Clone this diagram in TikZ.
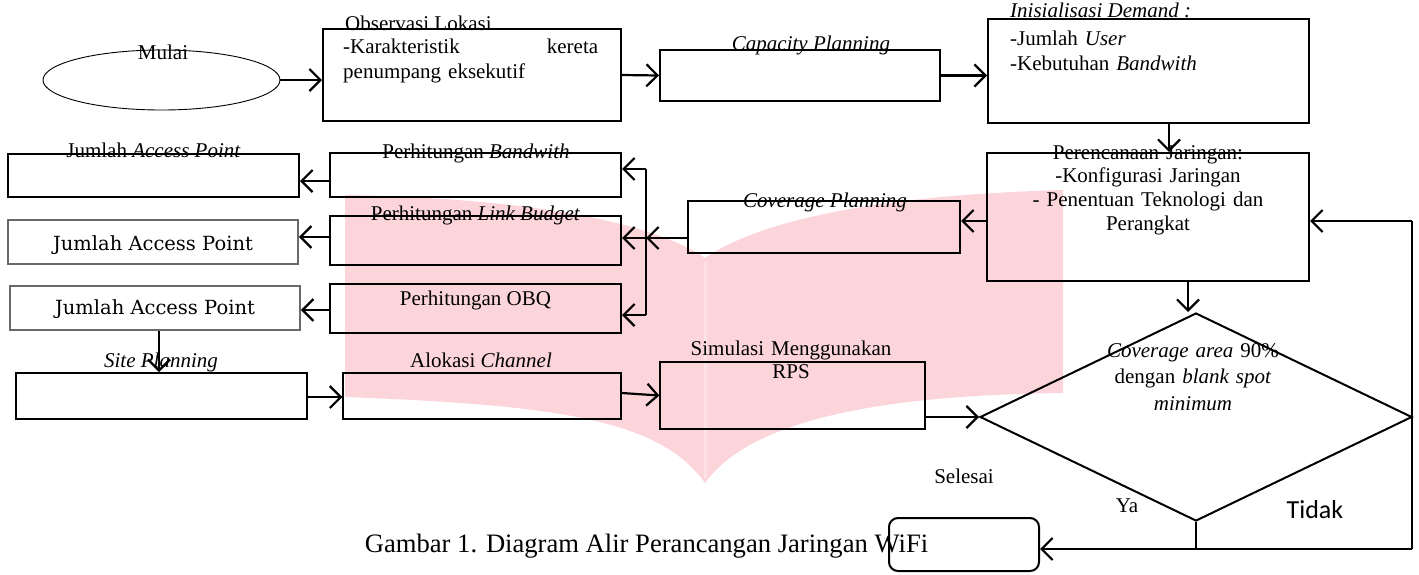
\documentclass[tikz,border=0pt]{standalone}
\usepackage{fontspec}
\setmainfont{Liberation Serif}
\newfontfamily\bmfont{DejaVu Serif}
\newfontfamily\calfont{Carlito}
\usetikzlibrary{arrows.meta,shapes.geometric}
\definecolor{wmpink}{RGB}{252,213,219}
\definecolor{apgray}{RGB}{105,105,105}
\begin{document}
\begin{tikzpicture}[x=1pt,y=-1pt,
  box/.style={draw,line width=2pt,inner sep=0pt},
  thinbox/.style={draw,line width=1.3pt,inner sep=0pt},
  apbox/.style={draw=apgray,line width=1.8pt,inner sep=0pt},
  txt/.style={inner sep=0pt,font=\fontsize{21}{25}\selectfont,anchor=base},
  aptxt/.style={inner sep=0pt,font=\bmfont\fontsize{19.5}{22}\selectfont,anchor=base},
  arr/.style={line width=2.2pt,-{Straight Barb[length=11pt,width=22pt]}},
  ln/.style={line width=2.2pt}]
\useasboundingbox (0,0) rectangle (1419,574);
% watermark
\fill[wmpink] (345,195) .. controls (520,198) and (650,220) .. (705,258)
  .. controls (760,220) and (880,195) .. (1063,190) -- (1063,393)
  .. controls (880,395) and (750,420) .. (705,483)
  .. controls (660,420) and (560,405) .. (345,397) -- cycle;
\draw[white,opacity=0.3,line width=3pt] (705,262) -- (705,478);
% shapes
\node[draw,ellipse,line width=0.9pt,minimum width=237pt,minimum height=60pt,inner sep=0pt] (mulai) at (161.5,80) {};
\node[box,minimum width=298pt,minimum height=92pt] (obs) at (472,75) {};
\node[box,minimum width=280pt,minimum height=51pt] (capbox) at (800,75.5) {};
\node[box,minimum width=321pt,minimum height=104pt] (ini) at (1148.5,71) {};
\node[box,minimum width=322pt,minimum height=128pt] (per) at (1148,217) {};
\node[box,minimum width=272pt,minimum height=52pt] (cov) at (824,227) {};
\node[box,minimum width=291pt,minimum height=44pt] (bw) at (475.5,175) {};
\node[box,minimum width=291pt,minimum height=49pt] (lb) at (475.5,240.5) {};
\node[box,minimum width=291pt,minimum height=49pt] (obq) at (475.5,308.5) {};
\node[box,minimum width=291pt,minimum height=43pt] (ap1) at (153.5,175.5) {};
\node[apbox,minimum width=290pt,minimum height=44pt] (ap2) at (153,242) {};
\node[apbox,minimum width=290pt,minimum height=44pt] (ap3) at (155,308) {};
\node[box,minimum width=291pt,minimum height=46pt] (site) at (161.5,396) {};
\node[thinbox,minimum width=278pt,minimum height=46pt] (alo) at (482,396) {};
\node[thinbox,minimum width=265pt,minimum height=67pt] (sim) at (792.5,395.5) {};
\node[draw,diamond,line width=2pt,inner sep=0pt,minimum width=432pt,minimum height=208pt] (dia) at (1196,417) {};
\node[draw,rounded corners=9pt,line width=2pt,minimum width=150pt,minimum height=53pt,inner sep=0pt] (sel) at (964,544.5) {};
% texts
\node[txt] (tmulai) at (163,59) {Mulai};
\node[txt,anchor=base west] (tobs) at (345,30) {Observasi Lokasi};
\node[txt,anchor=base west,text width=255pt,align=left] (tobsb) at (343,53) {-Karakteristik\hfill kereta\\penumpang eksekutif};
\node[txt] (tcap) at (811,50) {\textit{Capacity Planning}};
\node[txt,anchor=base west] (tini) at (1010,17) {\textit{Inisialisasi Demand :}};
\node[txt,anchor=base west,text width=250pt,align=left] (tinib) at (1010,45) {-Jumlah \textit{User}\\-Kebutuhan \textit{Bandwith}};
\node[txt,text width=300pt,align=center,font=\fontsize{21}{23.7}\selectfont] (tper) at (1148,159) {Perencanaan Jaringan:\\-Konfigurasi Jaringan\\- Penentuan Teknologi dan\\Perangkat};
\node[txt] (tcov) at (825,207) {\textit{Coverage Planning}};
\node[txt] (tbw) at (476,158) {Perhitungan \textit{Bandwith}};
\node[txt] (tlb) at (475.5,220) {Perhitungan \textit{Link Budget}};
\node[txt] (tobq) at (475.5,305) {Perhitungan OBQ};
\node[txt] (tap1) at (153.5,157) {Jumlah \textit{Access Point}};
\node[aptxt] (tap2) at (153,250) {Jumlah Access Point};
\node[aptxt] (tap3) at (155,314) {Jumlah Access Point};
\node[txt] (tsite) at (161,367) {\textit{Site Planning}};
\node[txt] (talo) at (481,367) {Alokasi \textit{Channel}};
\node[txt,text width=260pt,align=center,font=\fontsize{21}{23}\selectfont] (tsim) at (791,355) {Simulasi Menggunakan\\RPS};
\node[txt,text width=260pt,align=center,font=\fontsize{21}{26.5}\selectfont] (tdia) at (1193,357) {\textit{Coverage area} 90\%\\dengan \textit{blank spot}\\\textit{minimum}};
\node[txt] (tsel) at (964,483) {Selesai};
\node[txt] (tya) at (1127,512) {Ya};
\node[txt,font=\calfont\fontsize{26}{30}\selectfont] (ttidak) at (1315,518) {Tidak};
\node[txt,font=\fontsize{26.6}{32}\selectfont] (tcaption) at (646.5,552) {Gambar 1. Diagram Alir Perancangan Jaringan WiFi};
% connectors
\coordinate (brT) at (646,169);
\coordinate (brM) at (646,238);
\coordinate (brB) at (646,315);
\coordinate (ct) at (1412,221);
\coordinate (cb) at (1412,549);
\draw[arr] (mulai.east) -- (obs.west |- mulai.east);
\draw[arr] (obs.east) -- (capbox.west);
\draw[arr] (capbox.east) -- (capbox.east -| ini.west);
\draw[arr] ([xshift=20.5pt]ini.south) -- ([xshift=20.5pt]ini.south |- per.north);
\draw[arr] ([yshift=-4pt]per.west) -- ([yshift=-4pt]per.west -| cov.east);
\draw[ln] (brT) -- (brB);
\draw[arr] (cov.west |- brM) -- (brM);
\draw[arr] (brT) -- (brT -| bw.east);
\draw[arr] (brM) -- (brM -| lb.east);
\draw[arr] (brB) -- (brB -| obq.east);
\draw[arr] ([yshift=-6pt]bw.west) -- ([yshift=-6pt]bw.west -| ap1.east);
\draw[arr] ([yshift=3.5pt]lb.west) -- ([yshift=3.5pt]lb.west -| ap2.east);
\draw[arr] ([yshift=-1.5pt]obq.west) -- ([yshift=-1.5pt]obq.west -| ap3.east);
\draw[arr] ([xshift=4pt]ap3.south) -- ([xshift=4pt]ap3.south |- site.north);
\draw[arr] ([yshift=-1pt]site.east) -- ([yshift=-1pt]site.east -| alo.west);
\draw[arr] ([yshift=3pt]alo.east) -- (sim.west);
\draw[arr] ([yshift=-21.5pt]sim.east) -- (dia.west);
\draw[arr] ([xshift=40pt]per.south) -- ([xshift=40pt]per.south |- dia.north);
\draw[ln] (cb) -- (ct);
\draw[arr] (ct) -- (ct -| per.east);
\draw[arr] (cb) -- (cb -| sel.east);
\draw[ln] (dia.south) -- (dia.south |- cb);
\end{tikzpicture}
\end{document}
